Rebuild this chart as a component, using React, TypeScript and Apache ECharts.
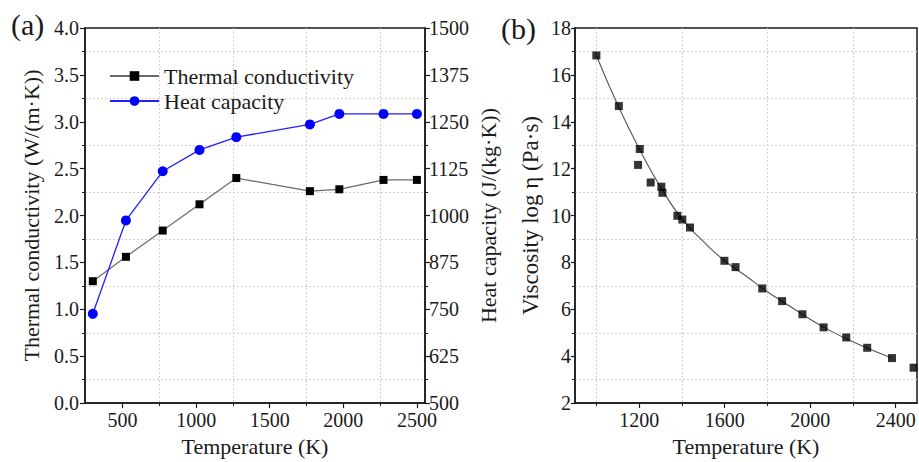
import React, { useEffect, useRef } from "react";
import * as echarts from "echarts";

// ---- (a) data ----
const tempA = [298, 523, 773, 1023, 1273, 1773, 1973, 2273, 2500];
const conductivity = [1.3, 1.56, 1.84, 2.12, 2.4, 2.26, 2.28, 2.38, 2.38];
const heatCapacity = [738, 987, 1118, 1175, 1209, 1243, 1271, 1271, 1271];
const xLabelsA = [500, 1000, 1500, 2000, 2500];
const xMinorA = [750, 1250, 1750, 2250];

// ---- (b) data ----
const tempB = [1000, 1105, 1203, 1195, 1254, 1304, 1309, 1379, 1402, 1438, 1599, 1651, 1776, 1869, 1964, 2063, 2169, 2267, 2383, 2484];
const viscosity = [16.83, 14.67, 12.84, 12.16, 11.41, 11.23, 10.97, 9.99, 9.83, 9.49, 8.07, 7.8, 6.89, 6.35, 5.79, 5.23, 4.8, 4.36, 3.92, 3.51];
const fitTemp = [1000, 1100, 1200, 1300, 1400, 1500, 1600, 1700, 1800, 1900, 2000, 2100, 2200, 2300, 2383];
const fitVisc = [16.83, 14.72, 12.86, 11.22, 9.86, 8.9, 8.07, 7.42, 6.75, 6.16, 5.58, 5.06, 4.62, 4.22, 3.92];
const xLabelsB = [1200, 1600, 2000, 2400];
const xMinorB = [1000, 1400, 1800, 2200];

const FONT = "'Liberation Serif', 'Times New Roman', serif";
const AX = "#1a1a1a";
const GRIDC = "#d2d2d2";

export default function App() {
  const ref = useRef<HTMLDivElement>(null);
  useEffect(() => {
    document.body.style.margin = "0";
    const chart = echarts.init(ref.current!, null, { renderer: "svg" });
    const labelStyle = { fontFamily: FONT, fontSize: 20, color: AX };
    const nameStyle = { fontFamily: FONT, fontSize: 22, color: AX };
    const axisLine = { show: true, lineStyle: { color: AX, width: 1.5 } };
    const dotted = { show: true, lineStyle: { color: GRIDC, type: [2, 2], width: 1 } };
    const plain = (v: number) => String(v);

    const option: any = {
      animation: false,
      backgroundColor: "#fff",
      grid: [
        { left: 85, top: 28, width: 340, height: 387, show: true, borderColor: AX, borderWidth: 1.5, backgroundColor: "transparent" },
        { left: 575, top: 28, width: 342, height: 389, show: true, borderColor: AX, borderWidth: 1.5, backgroundColor: "transparent" },
      ],
      legend: {
        data: ["Thermal conductivity", "Heat capacity"],
        orient: "vertical",
        left: 104,
        top: 60,
        itemWidth: 49,
        itemHeight: 12,
        itemGap: 3,
        textStyle: { fontFamily: FONT, fontSize: 22, color: AX },
      },
      graphic: [
        { type: "text", x: 11, y: 24, style: { text: "(a)", font: `30px ${FONT}`, fill: AX, verticalAlign: "middle" } },
        { type: "text", x: 501, y: 28, style: { text: "(b)", font: `30px ${FONT}`, fill: AX, verticalAlign: "middle" } },
      ],
      xAxis: [
        {
          gridIndex: 0, type: "value", min: 245, max: 2555, position: "bottom",
          axisLine,
          axisTick: { show: true, length: 5, customValues: xLabelsA, lineStyle: { color: AX, width: 1.2 } },
          axisLabel: { ...labelStyle, margin: 7, customValues: xLabelsA, formatter: plain },
          splitLine: { show: false },
          name: "Temperature (K)", nameLocation: "middle", nameGap: 25, nameTextStyle: nameStyle,
        },
        {
          gridIndex: 0, type: "value", min: 245, max: 2555, position: "bottom",
          axisLine: { show: false },
          axisTick: { show: true, length: 3, customValues: xMinorA, lineStyle: { color: AX, width: 1 } },
          axisLabel: { show: false, customValues: xMinorA },
          splitLine: dotted,
        },
        {
          gridIndex: 1, type: "value", min: 900, max: 2500, position: "bottom",
          axisLine,
          axisTick: { show: true, length: 5, customValues: xLabelsB, lineStyle: { color: AX, width: 1.2 } },
          axisLabel: { ...labelStyle, margin: 7, customValues: xLabelsB, formatter: plain },
          splitLine: { show: false },
          name: "Temperature (K)", nameLocation: "middle", nameGap: 24, nameTextStyle: nameStyle,
        },
        {
          gridIndex: 1, type: "value", min: 900, max: 2500, position: "bottom",
          axisLine: { show: false },
          axisTick: { show: true, length: 3, customValues: xMinorB, lineStyle: { color: AX, width: 1 } },
          axisLabel: { show: false, customValues: xMinorB },
          splitLine: dotted,
        },
      ],
      yAxis: [
        {
          gridIndex: 0, type: "value", min: 0, max: 4, interval: 0.5, position: "left",
          axisLine,
          axisTick: { show: true, length: 5, lineStyle: { color: AX, width: 1.2 } },
          minorTick: { show: true, splitNumber: 2, length: 3, lineStyle: { color: AX, width: 1 } },
          minorSplitLine: dotted,
          splitLine: { show: false },
          axisLabel: { ...labelStyle, margin: 6, formatter: (v: number) => v.toFixed(1) },
          name: "Thermal conductivity (W/(m·K))", nameLocation: "middle", nameGap: 43, nameRotate: 90, nameTextStyle: nameStyle,
        },
        {
          gridIndex: 0, type: "value", min: 500, max: 1500, interval: 125, position: "right",
          axisLine,
          axisTick: { show: true, length: 5, lineStyle: { color: AX, width: 1.2 } },
          minorTick: { show: true, splitNumber: 2, length: 3, lineStyle: { color: AX, width: 1 } },
          splitLine: { show: false },
          axisLabel: { ...labelStyle, margin: 4, formatter: plain },
          name: "Heat capacity (J/(kg·K))", nameLocation: "middle", nameGap: 52, nameRotate: 90, nameTextStyle: nameStyle,
        },
        {
          gridIndex: 1, type: "value", min: 2, max: 18, interval: 2, position: "left",
          axisLine,
          axisTick: { show: true, length: 4, lineStyle: { color: AX, width: 1.2 } },
          minorTick: { show: true, splitNumber: 2, length: 3, lineStyle: { color: AX, width: 1 } },
          minorSplitLine: dotted,
          splitLine: { show: false },
          axisLabel: { ...labelStyle, margin: 4, formatter: plain },
          name: "Viscosity log η (Pa·s)", nameLocation: "middle", nameGap: 33, nameRotate: 90,
          nameTextStyle: { ...nameStyle, fontSize: 23 },
        },
      ],
      series: [
        {
          name: "Thermal conductivity", type: "line", xAxisIndex: 0, yAxisIndex: 0,
          data: tempA.map((t, i) => [t, conductivity[i]]),
          symbol: "rect", symbolSize: 8,
          itemStyle: { color: "#000" },
          lineStyle: { color: "#6a6a6a", width: 1.2 },
          z: 3,
        },
        {
          name: "Heat capacity", type: "line", xAxisIndex: 0, yAxisIndex: 1,
          data: tempA.map((t, i) => [t, heatCapacity[i]]),
          symbol: "circle", symbolSize: 10,
          itemStyle: { color: "#0000ff" },
          lineStyle: { color: "#2020ff", width: 1.3 },
          z: 4,
        },
        {
          name: "fit", type: "line", xAxisIndex: 2, yAxisIndex: 2,
          data: fitTemp.map((t, i) => [t, fitVisc[i]]),
          smooth: true, showSymbol: false, symbol: "none",
          lineStyle: { color: "#555", width: 1.1 },
          z: 2,
        },
        {
          name: "Viscosity", type: "scatter", xAxisIndex: 2, yAxisIndex: 2,
          data: tempB.map((t, i) => [t, viscosity[i]]),
          symbol: "rect", symbolSize: 8,
          itemStyle: { color: "#000" },
          z: 3,
        },
      ],
    };
    chart.setOption(option);
    return () => chart.dispose();
  }, []);
  return <div ref={ref} style={{ width: 919, height: 462 }} />;
}
